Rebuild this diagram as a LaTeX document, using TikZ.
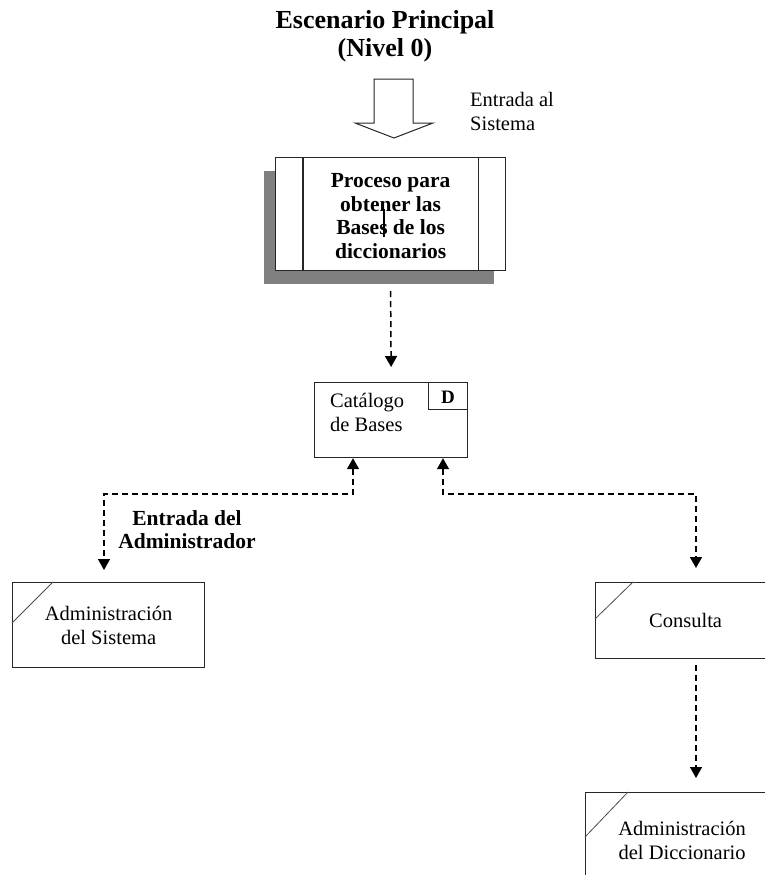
\documentclass[tikz,border=0pt]{standalone}
\usepackage{fontspec}
\setmainfont{Liberation Serif}
\usetikzlibrary{arrows.meta,shadows,calc}
\begin{document}
\begin{tikzpicture}[x=1pt,y=-1pt,
  box/.style={draw=black!85,line width=1.2pt,fill=white,inner sep=0pt,anchor=north west},
  body/.style={font=\fontsize{20.5}{24}\selectfont,align=center,inner sep=0pt},
  boldtxt/.style={font=\fontsize{21.5}{23.5}\selectfont\bfseries,align=center,inner sep=0pt},
  tip/.tip={Triangle[width=12pt,length=11pt]},
  flow/.style={line width=1.5pt,dash pattern=on 6pt off 4pt,-tip},
  bidir/.style={line width=1.5pt,dash pattern=on 6pt off 4pt,tip-tip},
  corner/.style={draw=black!70,line width=0.8pt}]
\useasboundingbox (0,0) rectangle (765,875);
\clip (0,0) rectangle (765,875);

% title
\node[font=\fontsize{26}{28}\selectfont\bfseries,align=center,inner sep=0pt] (title)
  at (385,36) {Escenario Principal\\(Nivel 0)};

% hollow input arrow
\draw[black!85,line width=1pt,fill=white] (374,79) -- (413,79) -- (413,123) -- (433,123)
  -- (394,138) -- (355,123) -- (374,123) -- cycle;
\node[body,align=left,anchor=north west] (entsis) at (470,92) {Entrada al\\Sistema};

% process box with side bars and drop shadow
\node[box,minimum width=230pt,minimum height=113pt,
  drop shadow={shadow xshift=-12pt,shadow yshift=-13pt,fill=black!50,opacity=1}] (proc) at (275,157) {};
\draw[black!85,line width=1.2pt] ([xshift=28pt]proc.north west) -- ([xshift=28pt]proc.south west);
\draw[black!85,line width=1.2pt] ([xshift=-28pt]proc.north east) -- ([xshift=-28pt]proc.south east);
\node[boldtxt] (proctxt) at ([yshift=-2pt]proc.center) {Proceso para\\obtener las\\Bases de los\\diccionarios};
\draw[line width=2.2pt] (384,209) -- (384,237);

% data store
\node[box,minimum width=153pt,minimum height=75pt] (cat) at (314,382) {};
\node[box,minimum width=39pt,minimum height=27pt,anchor=north east] (catD) at (cat.north east) {};
\node[font=\fontsize{19}{20}\selectfont\bfseries,inner sep=0pt] (dtag) at ([yshift=-1pt]catD.center) {D};
\node[body,align=left,anchor=north west] (cattxt) at (330,393) {Catálogo\\de Bases};

% external entities
\node[box,minimum width=192pt,minimum height=85pt] (admsis) at (12,582) {};
\draw[corner] ([yshift=-41pt]admsis.north west) -- ([xshift=41pt]admsis.north west);
\node[body] (admsistxt) at (admsis.center) {Administración\\del Sistema};

\node[box,minimum width=180pt,minimum height=76pt] (cons) at (595,582) {};
\draw[corner] ([yshift=-37pt]cons.north west) -- ([xshift=38pt]cons.north west);
\node[body] (constxt) at (cons.center) {Consulta};

\node[box,minimum width=193pt,minimum height=96pt] (dic) at (585,792) {};
\draw[corner] ([yshift=-45pt]dic.north west) -- ([xshift=43pt]dic.north west);
\node[body] (dictxt) at (dic.center) {Administración\\del Diccionario};

\node[boldtxt,anchor=north] (entadm) at (187,510) {Entrada del\\Administrador};

% connectors
\coordinate (lvl) at (0,494);
\coordinate (cL) at ($(cat.south west)+(39,0)$);
\coordinate (cR) at ($(cat.south west)+(129,0)$);
\coordinate (aL) at (104,570);
\coordinate (aR) at (696,568);
\coordinate (cs) at (696,665);
\coordinate (de) at (696,778);

\draw[flow] ([yshift=-20pt]proc.south) -- ([yshift=15pt]cat.north);
\draw[bidir] (cL) -- (cL |- lvl) -| (aL);
\draw[bidir] (cR) -- (cR |- lvl) -| (aR);
\draw[flow] (cs) -- (de);
\end{tikzpicture}
\end{document}
